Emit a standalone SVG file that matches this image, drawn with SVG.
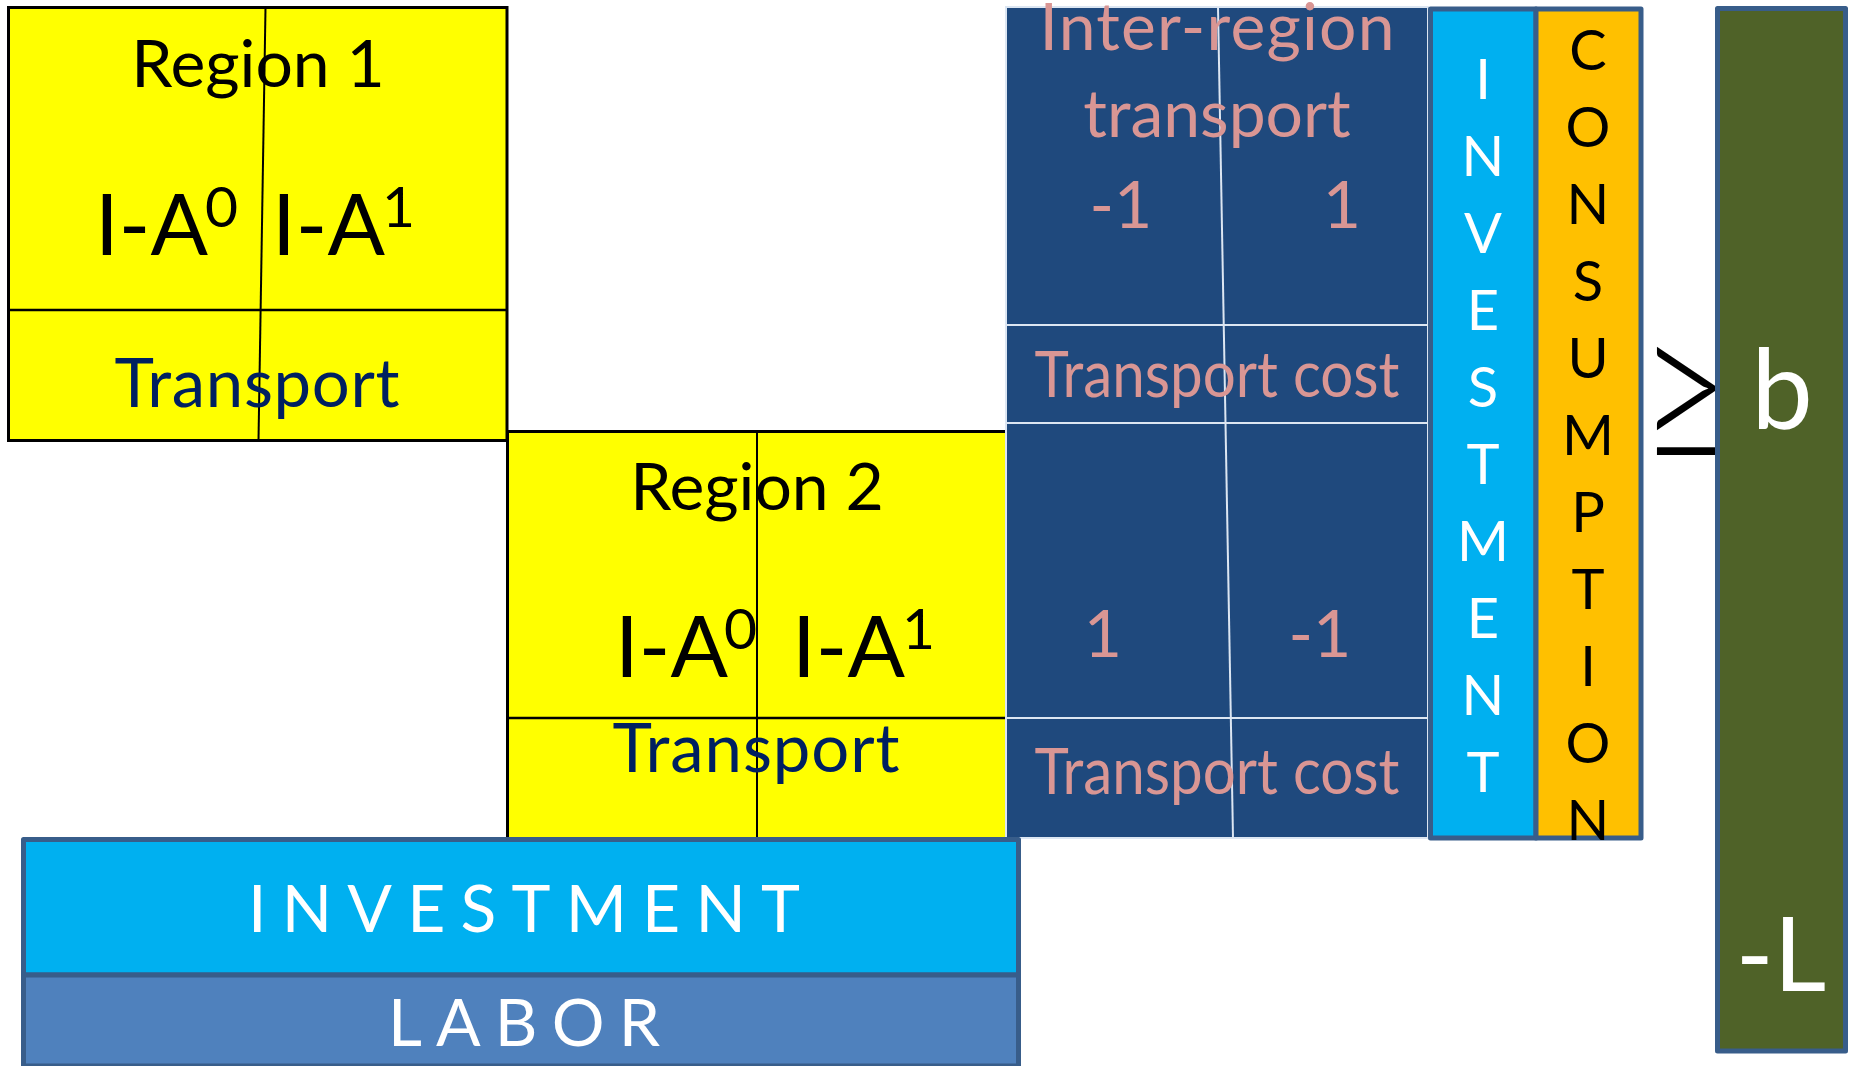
<svg xmlns="http://www.w3.org/2000/svg" width="1849" height="1066" viewBox="0 0 1849 1066">
  <style>
    text { font-family: Lato, "Open Sans", "Liberation Sans", sans-serif; }
    .yel { fill: #ffff00; }
    .blk { stroke: #000000; fill: none; }
    .lbl { font-size: 66px; fill: #000000; text-anchor: middle; }
    .ia { font-size: 85px; fill: #000000; }
    .sup { font-size: 57px; }
    .tr { font-size: 67px; fill: #002060; text-anchor: middle; }
    .pk { font-size: 66px; fill: #d99694; text-anchor: middle; }
    .cost { font-size: 64px; }
    .grid { stroke: #dce6f2; stroke-width: 2; fill: none; }
    .box { stroke: #385d8a; stroke-width: 5; stroke-linejoin: round; }
    .vt { font-size: 56px; text-anchor: middle; }
    .wide { font-size: 66px; fill: #ffffff; }
  </style>

  <!-- Region 1 block -->
  <g id="region1">
    <rect class="yel" x="8.5" y="7.5" width="498.5" height="433"/>
    <line class="blk" x1="8" y1="310" x2="507" y2="310" stroke-width="2.5"/>
    <line class="blk" x1="265.5" y1="8" x2="258.5" y2="441" stroke-width="2"/>
    <rect class="blk" x="8.5" y="7.5" width="498.5" height="433" stroke-width="3"/>
    <text class="lbl" x="258" y="87">Region 1</text>
    <text class="ia" x="95" y="255">I-A<tspan class="sup" dx="-3" dy="-28">0</tspan></text>
    <text class="ia" x="272" y="255">I-A<tspan class="sup" dx="-3" dy="-28">1</tspan></text>
    <text class="tr" x="257" y="407" textLength="285" lengthAdjust="spacing">Transport</text>
  </g>

  <!-- Region 2 block -->
  <g id="region2">
    <rect class="yel" x="507" y="431" width="499" height="407"/>
    <line class="blk" x1="507" y1="718" x2="1006" y2="718" stroke-width="2.5"/>
    <line class="blk" x1="757" y1="431" x2="757" y2="838" stroke-width="2"/>
    <line class="blk" x1="507" y1="431.5" x2="1006" y2="431.5" stroke-width="3"/>
    <line class="blk" x1="507.5" y1="430" x2="507.5" y2="838" stroke-width="3"/>
    <text class="lbl" x="757" y="510">Region 2</text>
    <text class="ia" x="615" y="677">I-A<tspan class="sup" dx="-4" dy="-28">0</tspan></text>
    <text class="ia" x="792" y="677">I-A<tspan class="sup" dx="-3" dy="-28">1</tspan></text>
    <text class="tr" x="756" y="772" textLength="287" lengthAdjust="spacing">Transport</text>
  </g>

  <!-- Inter-region transport table -->
  <g id="inter-region">
    <rect x="1006" y="7" width="422" height="831" fill="#1f497d"/>
    <line class="grid" x1="1006" y1="325" x2="1428" y2="325"/>
    <line class="grid" x1="1006" y1="423" x2="1428" y2="423"/>
    <line class="grid" x1="1006" y1="718" x2="1428" y2="718"/>
    <line class="grid" x1="1218" y1="7" x2="1233" y2="838"/>
    <rect class="grid" x="1006" y="7" width="422" height="831"/>
    <text class="pk" x="1217" y="50" textLength="355" lengthAdjust="spacing">Inter-region</text>
    <text class="pk" x="1217" y="137">transport</text>
    <text class="pk" x="1121" y="228">-1</text>
    <text class="pk" x="1342" y="228">1</text>
    <text class="pk cost" x="1217" y="397" textLength="365" lengthAdjust="spacingAndGlyphs">Transport cost</text>
    <text class="pk" x="1103" y="657">1</text>
    <text class="pk" x="1320" y="657">-1</text>
    <text class="pk cost" x="1217" y="794" textLength="365" lengthAdjust="spacingAndGlyphs">Transport cost</text>
  </g>

  <!-- Investment column -->
  <g id="investment-col">
    <rect class="box" x="1430.5" y="9" width="105.5" height="829" fill="#00b0f0"/>
    <g class="vt" fill="#ffffff">
      <text x="1483" y="99">I</text>
      <text x="1483" y="176">N</text>
      <text x="1483" y="253">V</text>
      <text x="1483" y="330">E</text>
      <text x="1483" y="407">S</text>
      <text x="1483" y="484">T</text>
      <text x="1483" y="561">M</text>
      <text x="1483" y="638">E</text>
      <text x="1483" y="715">N</text>
      <text x="1483" y="792">T</text>
    </g>
  </g>

  <!-- Consumption column -->
  <g id="consumption-col">
    <rect class="box" x="1536" y="9" width="105" height="829" fill="#ffc000"/>
    <g class="vt" fill="#000000">
      <text x="1588" y="70">C</text>
      <text x="1588" y="147">O</text>
      <text x="1588" y="224">N</text>
      <text x="1588" y="301">S</text>
      <text x="1588" y="378">U</text>
      <text x="1588" y="455">M</text>
      <text x="1588" y="532">P</text>
      <text x="1588" y="609">T</text>
      <text x="1588" y="686">I</text>
      <text x="1588" y="763">O</text>
      <text x="1588" y="840">N</text>
    </g>
  </g>

  <!-- Inequality sign -->
  <g id="geq">
    <text transform="translate(1686,463) scale(0.74,1)" font-size="212" font-weight="300" text-anchor="middle" fill="#000000">≥</text>
  </g>

  <!-- Right-hand side vector -->
  <g id="rhs">
    <rect class="box" x="1717.5" y="8.5" width="128" height="1042.5" fill="#4f6228"/>
    <text x="1782" y="428" font-size="110" fill="#ffffff" text-anchor="middle">b</text>
    <text x="1781" y="991" font-size="102" fill="#ffffff" text-anchor="middle">-L</text>
  </g>

  <!-- Investment row -->
  <g id="investment-row">
    <rect class="box" x="23.5" y="839.5" width="995" height="135.5" fill="#00b0f0"/>
    <text class="wide" x="248" y="932" textLength="552" lengthAdjust="spacing">INVESTMENT</text>
  </g>

  <!-- Labor row -->
  <g id="labor-row">
    <rect class="box" x="23.5" y="975" width="995" height="91" fill="#4f81bd"/>
    <text class="wide" x="388" y="1046" textLength="272" lengthAdjust="spacing">LABOR</text>
  </g>
</svg>
